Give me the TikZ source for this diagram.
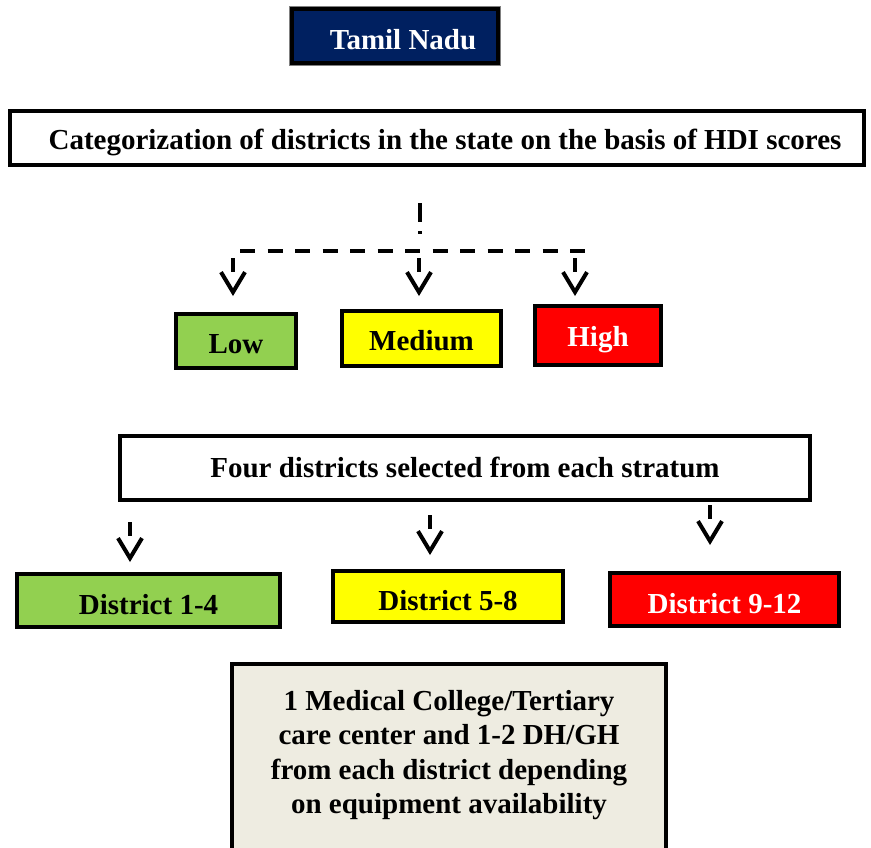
\documentclass[tikz,border=0pt]{standalone}
\usepackage{fontspec}
\setmainfont{Liberation Serif}
\usetikzlibrary{arrows.meta}
\definecolor{navy}{HTML}{002060}
\definecolor{lowg}{HTML}{92D050}
\definecolor{medy}{HTML}{FFFF00}
\definecolor{highr}{HTML}{FF0000}
\definecolor{beige}{HTML}{EEECE1}
\newcommand{\lowr}[2]{\raisebox{#1}[\height][\depth]{#2}}
\begin{document}
\begin{tikzpicture}[x=1pt,y=1pt,
  box/.style={draw=black,line width=4pt,rectangle,inner sep=0pt,align=center,
    font=\fontsize{29}{34}\selectfont\bfseries},
  dline/.style={line width=4pt,dash pattern=on 15pt off 12.5pt},
  darrow/.style={line width=4pt,dash pattern=on 14pt off 40pt,
    -{Straight Barb[length=20pt,width=24pt]}}]
\useasboundingbox (0,0) rectangle (871,-847);
\clip (0,0) rectangle (871,-847);
% top
\draw[gray,line width=1pt] (289.5,-6.5) rectangle (500.5,-65.5);
\node[box,fill=navy,text=white,minimum width=206pt,minimum height=54pt] (tn) at (395,-36) {\lowr{-4pt}{\hspace{16pt}Tamil Nadu}};
\node[box,fill=white,minimum width=854pt,minimum height=54pt] (cat) at (437,-138) {\lowr{-4pt}{\hspace{16pt}Categorization of districts in the state on the basis of HDI scores}};
% level boxes
\node[box,fill=lowg,minimum width=120pt,minimum height=54pt] (low) at (236,-341) {\lowr{-3pt}{Low}};
\node[box,fill=medy,minimum width=159pt,minimum height=55pt] (med) at (421.5,-338.5) {\lowr{-2pt}{Medium}};
\node[box,fill=highr,text=white,minimum width=126pt,minimum height=59pt] (high) at (598,-335.5) {\lowr{-4pt}{High}};
% connectors top
\coordinate (v1) at (420,-203);
\coordinate (v2) at (420,-234);
\draw[line width=4pt,dash pattern=on 19pt off 9pt] (v1) -- (v2);
\coordinate (h1) at (240,-251);
\coordinate (h2) at (585,-251);
\draw[dline] (h1) -- (h2);
\coordinate (s1) at (233,-258);
\coordinate (s2) at (419,-258);
\coordinate (s3) at (575,-258);
\coordinate (f1) at (233,-296);
\coordinate (f2) at (419,-296);
\coordinate (f3) at (575,-296);
\draw[darrow] (s1) -- (f1);
\draw[darrow] (s2) -- (f2);
\draw[darrow] (s3) -- (f3);
% four districts
\node[box,fill=white,minimum width=690pt,minimum height=64pt] (four) at (465,-468) {\lowr{1pt}{Four districts selected from each stratum}};
% district boxes
\node[box,fill=lowg,minimum width=263pt,minimum height=53pt] (d1) at (148.5,-600.5) {\lowr{-4pt}{District 1-4}};
\node[box,fill=medy,minimum width=230pt,minimum height=51pt] (d2) at (448,-596.5) {\lowr{-4pt}{District 5-8}};
\node[box,fill=highr,text=white,minimum width=229pt,minimum height=53pt] (d3) at (724.5,-599.5) {\lowr{-4pt}{District 9-12}};
\coordinate (t1) at (130,-522);
\coordinate (t2) at (430,-515);
\coordinate (t3) at (710,-505);
\coordinate (e1) at (130,-562);
\coordinate (e2) at (430,-555);
\coordinate (e3) at (710,-545);
\draw[darrow] (t1) -- (e1);
\draw[darrow] (t2) -- (e2);
\draw[darrow] (t3) -- (e3);
% bottom box
\node[box,fill=beige,minimum width=434pt,minimum height=260pt,anchor=north] (bot) at (449,-662) {};
\node[font=\fontsize{29}{34.4}\selectfont\bfseries,align=center,inner sep=0pt] (bottext) at (449,-755)
  {1 Medical College/Tertiary\\care center and 1-2 DH/GH\\from each district depending\\on equipment availability};
\end{tikzpicture}
\end{document}
